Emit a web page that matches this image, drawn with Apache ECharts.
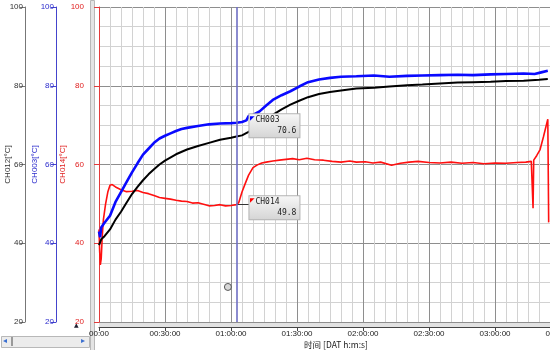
<!DOCTYPE html>
<html>
<head>
<meta charset="utf-8">
<script src="https://cdn.jsdelivr.net/npm/echarts@6/dist/echarts.min.js"></script>
<style>
  html, body { margin: 0; padding: 0; background: #fff; }
  #chart { width: 550px; height: 350px; }
</style>
</head>
<body>
<div id="chart"></div>
<script>
// time in minutes from start, values in degC
const blueT = [0, 0.5, 1, 2.5, 5, 7.5, 10, 12.5, 15, 17.5, 20, 22.5, 25, 27.5, 30, 32.5, 35, 37.5, 40, 45, 50, 55, 60, 62.5, 65, 67, 68, 70, 73, 76, 79, 83, 87, 91, 95, 100, 105, 110, 117, 125, 132, 140, 147, 155, 163, 170, 178, 185, 193, 198, 201, 204];
const blueV = [43.0, 41.5, 44.0, 45.2, 47.0, 50.5, 53.0, 55.5, 58.0, 60.3, 62.5, 64.0, 65.5, 66.6, 67.3, 67.9, 68.5, 69.0, 69.3, 69.8, 70.2, 70.4, 70.5, 70.6, 70.8, 71.2, 72.3, 72.6, 73.5, 75.0, 76.4, 77.6, 78.6, 79.8, 80.9, 81.6, 82.0, 82.3, 82.4, 82.6, 82.3, 82.5, 82.6, 82.7, 82.8, 82.7, 82.9, 83.0, 83.1, 83.0, 83.4, 83.8];

const blackT = [0, 1, 2.5, 5, 7.5, 10, 12.5, 15, 17.5, 20, 22.5, 25, 27.5, 30, 35, 40, 45, 50, 55, 60, 62.5, 65, 68, 70, 73, 76, 79, 83, 87, 91, 95, 100, 105, 110, 117, 125, 132, 140, 147, 155, 163, 170, 178, 185, 193, 200, 204];
const blackV = [39.5, 41.0, 41.8, 43.5, 46.0, 48.0, 50.3, 52.5, 54.3, 56.0, 57.5, 58.8, 60.0, 61.0, 62.6, 63.8, 64.7, 65.5, 66.3, 66.8, 67.1, 67.4, 68.3, 69.0, 70.0, 71.4, 72.6, 74.0, 75.2, 76.2, 77.1, 77.9, 78.4, 78.8, 79.3, 79.5, 79.8, 80.1, 80.3, 80.6, 80.8, 80.9, 81.0, 81.2, 81.3, 81.5, 81.7];

const redT = [0, 0.3, 0.6, 1, 1.5, 2, 3, 4, 5, 6, 7.5, 10, 12.5, 15, 17.5, 20, 22.5, 25, 27.5, 30, 32.5, 35, 37.5, 40, 42.5, 45, 47.5, 50, 52.5, 55, 57.5, 60, 62.5, 63.5, 65, 66.5, 68, 70, 72, 74, 76, 79, 82, 85, 88, 91, 94.5, 98, 102, 106, 110, 114, 117, 121, 124.5, 128, 133, 137, 141, 145, 150, 155, 160, 165, 170, 175, 180, 185, 190, 194, 196.5, 197, 197.3, 197.6, 199, 200.5, 202, 203.6, 204, 204.4];
const redV = [43.5, 38.0, 34.5, 36.0, 42.0, 46.0, 50.0, 53.0, 54.7, 54.9, 54.3, 53.6, 53.1, 53.2, 53.4, 52.9, 52.6, 52.1, 51.6, 51.4, 51.2, 50.9, 50.7, 50.6, 50.2, 50.3, 49.9, 49.5, 49.6, 49.8, 49.5, 49.6, 49.8, 50.3, 53.0, 55.2, 57.3, 59.2, 59.9, 60.4, 60.6, 60.9, 61.1, 61.3, 61.5, 61.2, 61.6, 61.2, 61.1, 60.8, 60.6, 60.9, 60.6, 60.7, 60.4, 60.6, 59.8, 60.3, 60.6, 60.8, 60.5, 60.4, 60.6, 60.3, 60.5, 60.2, 60.4, 60.3, 60.5, 60.6, 60.8, 61.0, 48.9, 61.1, 62.3, 63.8, 67.0, 70.6, 71.5, 45.3];

const axisNames = ['CH014[°C]', 'CH003[°C]', 'CH012[°C]'];
const yTicks = [20, 40, 60, 80, 100];
const xTickMinutes = [0, 30, 60, 90, 120, 150, 180, 210];

const cursorT = 62.7;
const cursorLabels = ['CH003', 'CH014'];
const cursorValues = [70.6, 49.8];
const handlePoint = [58.6, 28.9];

const zip = (t, v) => t.map((x, i) => [x, v[i]]);

const fmtTime = (m) => {
  if (m === 0) return '00:00';
  const h = Math.floor(m / 60), mm = m % 60;
  return String(h).padStart(2, '0') + ':' + String(mm).padStart(2, '0') + ':00';
};

const font = 'Liberation Sans';
const axisColors = ['#e23a3a', '#4444cc', '#777777'];
const labelColors = ['#e02020', '#2a2acc', '#333333'];
const offsets = [13, 43, 74];
const nameGaps = [19, 17, 13];

const yAxes = axisNames.map((n, i) => ({
  type: 'value',
  position: 'left',
  min: yTicks[0],
  max: yTicks[yTicks.length - 1],
  interval: 20,
  offset: offsets[i],
  name: n,
  nameLocation: 'middle',
  nameRotate: 90,
  nameGap: nameGaps[i],
  nameMoveOverlap: false,
  nameTextStyle: { color: labelColors[i], fontFamily: font, fontSize: 8 },
  axisLine: { show: true, lineStyle: { color: axisColors[i], width: 1 } },
  axisTick: { show: true, length: 5, lineStyle: { color: axisColors[i] } },
  axisLabel: { color: labelColors[i], fontFamily: font, fontSize: 8, margin: 2 },
  splitLine: { show: i === 0, lineStyle: { color: '#8e8e8e', width: 1 } },
  minorTick: { show: false, splitNumber: 4 },
  minorSplitLine: { show: i === 0, lineStyle: { color: '#d2d2d2', width: 1 } }
}));

const boxBg = {
  type: 'linear', x: 0, y: 0, x2: 0, y2: 1,
  colorStops: [{ offset: 0, color: '#f8f8f8' }, { offset: 1, color: '#d4d4d4' }]
};

function cursorBox(name, value, color) {
  return {
    show: true,
    position: [13, -8],
    formatter: '{t|◤}{n|' + name + '}\n{v|' + value.toFixed(1) + '}',
    backgroundColor: boxBg,
    borderColor: '#b4b4b4',
    borderWidth: 1,
    padding: [1, 3, 1, 1],
    rich: {
      t: { color: color, fontSize: 6, verticalAlign: 'top', lineHeight: 10 },
      n: { fontFamily: 'DejaVu Sans Mono', fontSize: 8, color: '#222', width: 40, lineHeight: 10 },
      v: { fontFamily: 'DejaVu Sans Mono', fontSize: 8, color: '#222', width: 46, align: 'right', lineHeight: 11 }
    }
  };
}

const chart = echarts.init(document.getElementById('chart'), null, { renderer: 'canvas' });

chart.setOption({
  animation: false,
  backgroundColor: '#ffffff',
  grid: { left: 99, right: -11, top: 7, bottom: 28, show: true, backgroundColor: '#ffffff', borderWidth: 0, outerBoundsMode: 'none', containLabel: false },
  xAxis: {
    type: 'value',
    min: xTickMinutes[0],
    max: xTickMinutes[xTickMinutes.length - 1],
    interval: 30,
    offset: 5,
    name: '时间 [DAT h:m:s]',
    nameLocation: 'middle',
    nameGap: 14,
    nameMoveOverlap: false,
    nameTextStyle: { fontFamily: 'Noto Sans CJK SC', fontSize: 8.5, color: '#222', padding: [0, 0, 0, 12] },
    axisLine: { show: true, lineStyle: { color: '#444' } },
    axisTick: { show: true, length: 4, lineStyle: { color: '#444' } },
    axisLabel: { formatter: fmtTime, fontFamily: font, fontSize: 8, color: '#222', margin: 3, showMaxLabel: true },
    splitLine: { show: true, lineStyle: { color: '#8e8e8e', width: 1 } },
    minorTick: { show: false, splitNumber: 6 },
    minorSplitLine: { show: true, lineStyle: { color: '#d2d2d2', width: 1 } }
  },
  yAxis: yAxes,
  graphic: [
    { type: 'rect', left: 90, top: 0, shape: { width: 4, height: 350 }, style: { fill: '#e4e4e4', stroke: '#b8b8b8', lineWidth: 1 } },
    { type: 'rect', left: 99, top: 323, shape: { width: 451, height: 4 }, style: { fill: '#e2e2e2' } },
    { type: 'rect', left: 1, top: 336, shape: { width: 88, height: 11 }, style: { fill: '#ececec', stroke: '#b8b8b8', lineWidth: 1 } },
    { type: 'rect', left: 11, top: 337, shape: { width: 2, height: 9 }, style: { fill: '#9a9a9a' } },
    { type: 'text', left: 3, top: 337, style: { text: '◂', fill: '#3a6fd0', font: '8px DejaVu Sans' } },
    { type: 'text', left: 81, top: 337, style: { text: '▸', fill: '#3a6fd0', font: '8px DejaVu Sans' } },
    { type: 'text', left: 74, top: 322, style: { text: '▲', fill: '#223', font: '6px DejaVu Sans' } }
  ],
  series: [
    {
      name: 'CH014', type: 'line', yAxisIndex: 0, showSymbol: false,
      data: zip(redT, redV),
      lineStyle: { color: '#ff1010', width: 1.6 },
      z: 3,
      markLine: {
        silent: true, symbol: 'none', label: { show: false },
        data: [
          [{ coord: [cursorT, cursorValues[1]], lineStyle: { color: '#333', width: 1, type: 'solid' } }, { coord: [cursorT + 5.9, cursorValues[1]] }]
        ]
      },
      markPoint: {
        symbol: 'rect', symbolSize: 1, itemStyle: { color: 'rgba(0,0,0,0)' },
        data: [{ coord: [cursorT, cursorValues[1]], label: cursorBox(cursorLabels[1], cursorValues[1], '#ff0000') }]
      }
    },
    {
      name: 'CH012', type: 'line', yAxisIndex: 2, showSymbol: false,
      data: zip(blackT, blackV),
      lineStyle: { color: '#000000', width: 2 },
      z: 3,
      markPoint: {
        symbol: 'circle', symbolSize: 7,
        itemStyle: { color: '#d8d8d8', borderColor: '#555', borderWidth: 1 },
        label: { show: false },
        data: [{ coord: handlePoint }]
      }
    },
    {
      name: 'CH003', type: 'line', yAxisIndex: 1, showSymbol: false,
      data: zip(blueT, blueV),
      lineStyle: { color: '#0a0aff', width: 2.6 },
      z: 3,
      markLine: {
        silent: true, symbol: 'none', label: { show: false },
        data: [
          { xAxis: cursorT, lineStyle: { color: '#6f6fc4', width: 1.6, type: 'solid' } }
        ]
      },
      markPoint: {
        symbol: 'rect', symbolSize: 1, itemStyle: { color: 'rgba(0,0,0,0)' },
        data: [{ coord: [cursorT, cursorValues[0]], label: cursorBox(cursorLabels[0], cursorValues[0], '#0000ff') }]
      }
    }
  ]
});
</script>
</body>
</html>
